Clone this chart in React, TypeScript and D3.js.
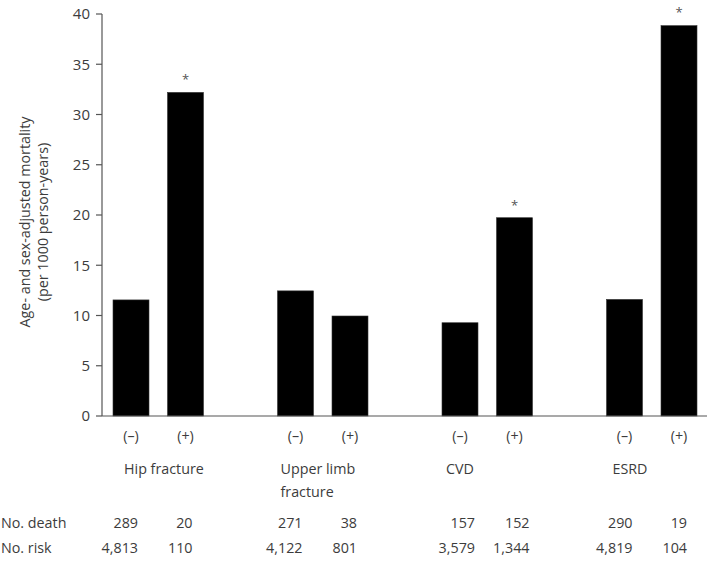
import React from "react";
import * as d3 from "d3";

const groups = ["Hip fracture", "Upper limb fracture", "CVD", "ESRD"];
const groupLabelLines = [["Hip fracture"], ["Upper limb", "fracture"], ["CVD"], ["ESRD"]];
const statuses = ["(–)", "(+)"];
const mortalityNeg = [11.55, 12.45, 9.28, 11.6];
const mortalityPos = [32.2, 9.95, 19.73, 38.84];
const significant = [true, false, true, true];
const noDeathNeg = ["289", "271", "157", "290"];
const noDeathPos = ["20", "38", "152", "19"];
const noRiskNeg = ["4,813", "4,122", "3,579", "4,819"];
const noRiskPos = ["110", "801", "1,344", "104"];
const yTicks = [0, 5, 10, 15, 20, 25, 30, 35, 40];

const W = 709;
const H = 568;
const FONT = "'Open Sans', 'Noto Sans', sans-serif";
const TEXT = "#3c3c3c";
const AXIS = "#555";

export default function App() {
  const axisX = 102;
  const y = d3.scaleLinear().domain([0, 40]).range([416, 14]);
  const gx = d3.scalePoint<string>().domain(groups).range([158.25, 651.75]);
  const inner = d3.scalePoint<string>().domain(statuses).range([-27.25, 27.25]);
  const barW = 36;
  const labelOffsets = [-7, -15, -14, -12];
  const tableOffsets = [7, 7, 15, 8];

  const bars = groups.flatMap((g, i) => [
    { g, i, s: statuses[0], v: mortalityNeg[i], sig: false, death: noDeathNeg[i], risk: noRiskNeg[i] },
    { g, i, s: statuses[1], v: mortalityPos[i], sig: significant[i], death: noDeathPos[i], risk: noRiskPos[i] },
  ]);
  const cx = (g: string, s: string) => (gx(g) as number) + (inner(s) as number);

  return (
    <svg width={W} height={H} style={{ position: "absolute", left: 0, top: 0, background: "#fff" }} fontFamily={FONT}>
      {/* y axis */}
      <line x1={axisX} x2={axisX} y1={y(40)} y2={y(0)} stroke={AXIS} strokeWidth={1.2} />
      {yTicks.map((t) => (
        <g key={t}>
          <line x1={axisX - 6} x2={axisX} y1={y(t)} y2={y(t)} stroke={AXIS} strokeWidth={1.2} />
          <text x={axisX - 12} y={y(t)} dy="0.35em" textAnchor="end" fontSize={15} fill={TEXT}>
            {t}
          </text>
        </g>
      ))}
      {/* y label */}
      <g transform={`translate(25, ${222}) rotate(-90)`}>
        <text textAnchor="middle" dy="0.35em" fontSize={14.3} fill={TEXT}>
          Age- and sex-adjusted mortality
        </text>
        <text y={18} textAnchor="middle" dy="0.35em" fontSize={14.3} fill={TEXT}>
          (per 1000 person-years)
        </text>
      </g>
      {/* bars */}
      {bars.map((b) => (
        <g key={b.g + b.s}>
          <rect
            x={cx(b.g, b.s) - barW / 2}
            y={y(b.v)}
            width={barW}
            height={y(0) - y(b.v)}
            fill="#000"
            stroke="#333"
            strokeWidth={0.6}
          />
          {b.sig && (
            <text x={cx(b.g, b.s)} y={y(b.v) - 16} dy="0.6em" textAnchor="middle" fontSize={13} fill="#555">
              *
            </text>
          )}
          <text x={cx(b.g, b.s)} y={436} dy="0.35em" textAnchor="middle" fontSize={14.3} fill={TEXT}>
            {b.s}
          </text>
          <text x={cx(b.g, b.s) + tableOffsets[b.i]} y={523} dy="0.35em" textAnchor="end" fontSize={14.3} fill={TEXT}>
            {b.death}
          </text>
          <text x={cx(b.g, b.s) + tableOffsets[b.i]} y={548} dy="0.35em" textAnchor="end" fontSize={14.3} fill={TEXT}>
            {b.risk}
          </text>
        </g>
      ))}
      {/* x axis */}
      <line x1={axisX} x2={707} y1={y(0)} y2={y(0)} stroke={AXIS} strokeWidth={1.2} />
      {/* group labels */}
      {groups.map((g, i) => (
        <text key={g} x={cx(g, statuses[0]) + labelOffsets[i]} y={469} fontSize={14.3} fill={TEXT}>
          {groupLabelLines[i].map((l, k) => (
            <tspan key={k} x={cx(g, statuses[0]) + labelOffsets[i]} dy={k === 0 ? "0.35em" : 23}>
              {l}
            </tspan>
          ))}
        </text>
      ))}
      {/* table row labels */}
      <text x={1} y={523} dy="0.35em" fontSize={14.3} fill={TEXT}>No. death</text>
      <text x={1} y={548} dy="0.35em" fontSize={14.3} fill={TEXT}>No. risk</text>
    </svg>
  );
}
